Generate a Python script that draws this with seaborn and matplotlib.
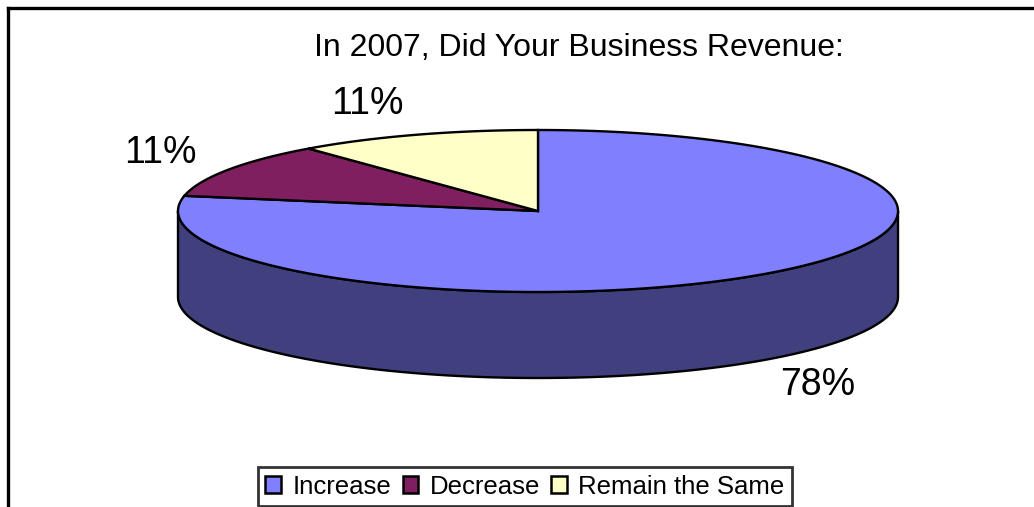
import numpy as np
import matplotlib
matplotlib.use("Agg")
import matplotlib.pyplot as plt
from matplotlib.patches import Polygon, Patch
import seaborn as sns

categories = ["Increase", "Decrease", "Remain the Same"]
values = [78, 11, 11]
pct_labels = ["78%", "11%", "11%"]
top_colors = ["#8080FF", "#7F1F5F", "#FFFFC8"]
side_colors = ["#40407F", "#40102F", "#808064"]
title = "In 2007, Did Your Business Revenue:"

sns.set_style("white")
plt.rcParams["font.family"] = ["Liberation Sans", "DejaVu Sans"]
plt.rcParams["text.color"] = "black"

W, H = 1034, 507
fig = plt.figure(figsize=(W / 100, H / 100), dpi=100)
ax = fig.add_axes([0, 0, 1, 1])
ax.set_xlim(0, W)
ax.set_ylim(H, 0)
ax.axis("off")

# geometry of the 3-D ellipse (layout)
cx, cy, rx, ry, depth = 538, 211, 360, 81, 86
lw = 1.7


def pt(theta_deg, dz=0.0):
    t = np.deg2rad(theta_deg)
    return cx + rx * np.cos(t), cy - ry * np.sin(t) + dz


# slice angles, clockwise from 12 o'clock
fracs = np.array(values, dtype=float) / np.sum(values)
starts = 90 - 360 * np.concatenate([[0], np.cumsum(fracs)[:-1]])
ends = starts - 360 * fracs

# side walls (front half visible: angles -180..0)
for s, e, col in zip(starts, ends, side_colors):
    lo, hi = min(s, e), max(s, e)
    for shift in (0, 360, -360):
        l2, h2 = max(lo + shift, -180), min(hi + shift, 0)
        if h2 > l2:
            th = np.linspace(l2, h2, 200)
            top = [pt(t) for t in th]
            bot = [pt(t, depth) for t in th[::-1]]
            ax.add_patch(Polygon(top + bot, closed=True, facecolor=col,
                                 edgecolor="black", linewidth=lw, zorder=1))

# top face wedges
for s, e, col in zip(starts, ends, top_colors):
    th = np.linspace(s, e, 400)
    poly = [(cx, cy)] + [pt(t) for t in th]
    ax.add_patch(Polygon(poly, closed=True, facecolor=col,
                         edgecolor="black", linewidth=lw, zorder=2,
                         joinstyle="miter"))

# percentage labels
for s, e, lab in zip(starts, ends, pct_labels):
    mid = (s + e) / 2
    t = np.deg2rad(mid)
    fx = 1.22 if np.cos(t) < -0.5 or np.cos(t) > 0 else 1.4
    x = cx + fx * rx * np.cos(t)
    y = cy - 1.41 * ry * np.sin(t)
    if np.sin(t) < 0:
        y += depth
    ax.text(x, y, lab, ha="center", va="center", fontsize=27, color="black", zorder=3)

# title
ax.text(579, 48, title, ha="center", va="center", fontsize=23, color="black")

# outer frame (top and left visible)
ax.plot([8, W], [8, 8], color="black", linewidth=2.4, solid_capstyle="projecting")
ax.plot([8, 8], [8, H], color="black", linewidth=2.4, solid_capstyle="projecting")

handles = [Patch(facecolor=c, edgecolor="black", linewidth=1.8) for c in top_colors]
leg = fig.legend(handles, categories, loc="center", bbox_to_anchor=(525 / W, 1 - 486.5 / H),
                 ncol=3, frameon=True, fancybox=False, edgecolor="black",
                 fontsize=18.5, handlelength=0.6, handleheight=0.6,
                 handletextpad=0.45, columnspacing=0.45, borderpad=0.28,
                 borderaxespad=0, labelcolor="black")
leg.get_frame().set_linewidth(2.0)

fig.savefig("out.png", dpi=100, facecolor="white")
